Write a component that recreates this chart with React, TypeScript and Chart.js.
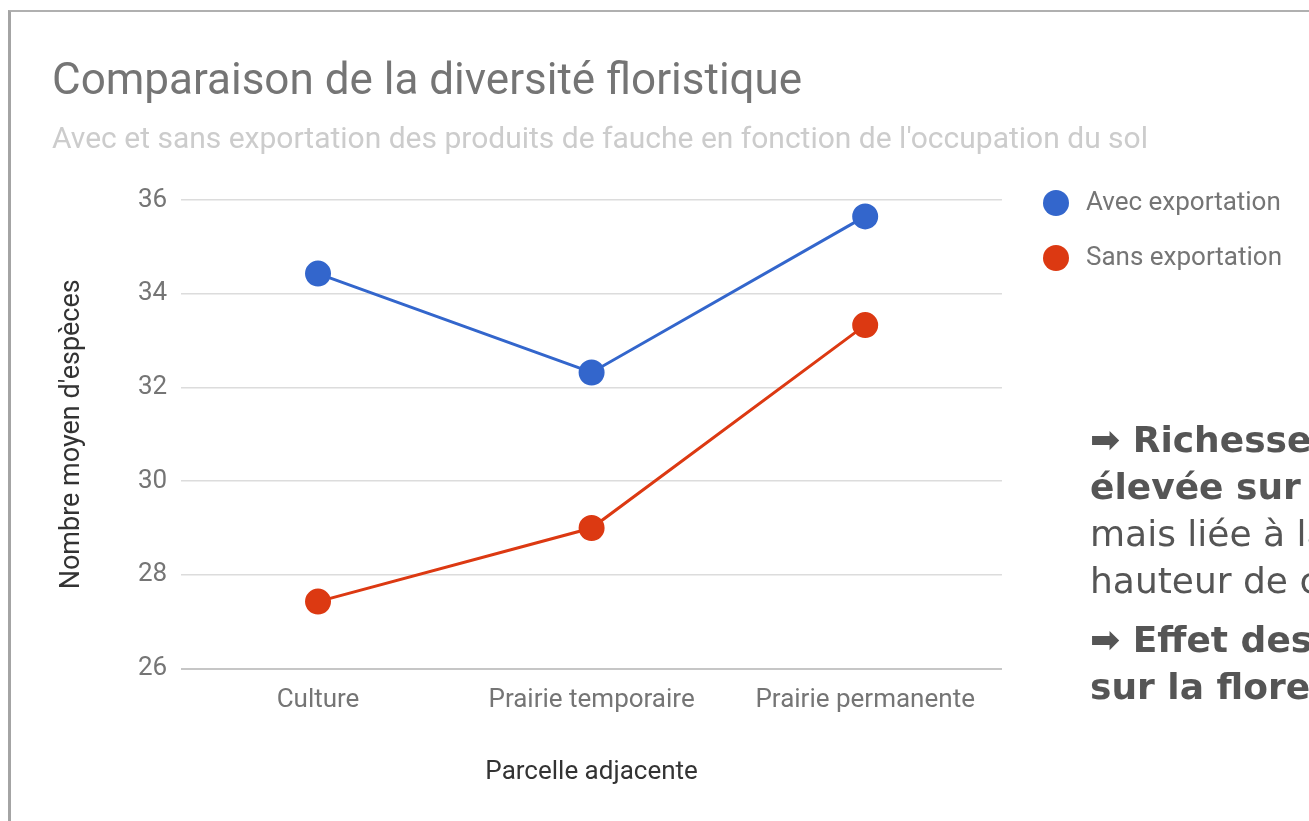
import React, { useEffect, useRef } from 'react';
import { Chart, registerables } from 'chart.js';

Chart.register(...registerables);

// ---- data ----
const categories = ['Culture', 'Prairie temporaire', 'Prairie permanente'];
const seriesLabels = ['Avec exportation', 'Sans exportation'];
const avecExportation = [34.43, 32.32, 35.65];
const sansExportation = [27.43, 29.0, 33.33];
const yTicks = [26, 28, 30, 32, 34, 36];
const seriesColors = ['#3366cc', '#dc3912'];

const titleText = 'Comparaison de la diversité floristique';
const subtitleText = "Avec et sans exportation des produits de fauche en fonction de l'occupation du sol";
const yAxisTitle = "Nombre moyen d'espèces";
const xAxisTitle = 'Parcelle adjacente';

const noteLines = [
  { text: '➡ Richesse floristique plus', bold: true, top: 416 },
  { text: 'élevée sur prairie permanente', bold: true, top: 463 },
  { text: 'mais liée à la', bold: false, top: 510 },
  { text: 'hauteur de coupe', bold: false, top: 557 },
  { text: '➡ Effet des exportations', bold: true, top: 616 },
  { text: 'sur la flore', bold: true, top: 663 },
];

function makeDot(color: string) {
  const c = document.createElement('canvas');
  c.width = 40;
  c.height = 28;
  const ctx = c.getContext('2d')!;
  ctx.fillStyle = color;
  ctx.beginPath();
  ctx.arc(24, 14, 13, 0, Math.PI * 2);
  ctx.fill();
  return c;
}

export default function App() {
  const canvasRef = useRef<HTMLCanvasElement | null>(null);

  useEffect(() => {
    const canvas = canvasRef.current;
    if (!canvas) return;
    const dots = seriesColors.map(makeDot);
    const font = 'Roboto';
    const chart = new Chart(canvas, {
      type: 'line',
      data: {
        labels: categories,
        datasets: [
          {
            label: seriesLabels[0],
            data: avecExportation,
            borderColor: seriesColors[0],
            backgroundColor: seriesColors[0],
            pointBackgroundColor: seriesColors[0],
            pointBorderColor: seriesColors[0],
            borderWidth: 3,
            pointRadius: 12,
            pointBorderWidth: 2,
            tension: 0,
          },
          {
            label: seriesLabels[1],
            data: sansExportation,
            borderColor: seriesColors[1],
            backgroundColor: seriesColors[1],
            pointBackgroundColor: seriesColors[1],
            pointBorderColor: seriesColors[1],
            borderWidth: 3,
            pointRadius: 12,
            pointBorderWidth: 2,
            tension: 0,
          },
        ],
      },
      options: {
        responsive: false,
        animation: false,
        layout: { padding: { left: 52, top: 20, right: 17, bottom: 27 } },
        plugins: {
          tooltip: { enabled: false },
          title: {
            display: true,
            text: titleText,
            align: 'start',
            color: '#757575',
            font: { family: font, size: 44, weight: 'normal' },
            padding: { top: 36.2, bottom: 6 },
          },
          subtitle: {
            display: true,
            text: subtitleText,
            align: 'start',
            color: '#cccccc',
            font: { family: font, size: 30, weight: 'normal' },
            padding: { top: 7.5, bottom: 41.5 },
          },
          legend: {
            position: 'right',
            align: 'start',
            fullSize: true,
            title: { display: true, text: '', padding: { top: 0, bottom: 126.6 }, font: { size: 12 } },
            labels: {
              usePointStyle: true,
              pointStyleWidth: 42,
              boxHeight: 26,
              padding: 29,
              color: '#757575',
              font: { family: font, size: 26 },
              generateLabels: (ch: any) => {
                const items = Chart.defaults.plugins.legend.labels.generateLabels(ch);
                return items.map((it: any, i: number) => ({ ...it, pointStyle: dots[i] }));
              },
            },
          },
        },
        scales: {
          x: {
            type: 'category',
            offset: true,
            grid: { display: false, drawTicks: false },
            border: { display: false },
            ticks: {
              color: '#757575',
              font: { family: font, size: 26 },
              padding: 16,
              maxRotation: 0,
              autoSkip: false,
            },
            title: {
              display: true,
              text: xAxisTitle,
              color: '#333333',
              font: { family: font, size: 26 },
              padding: { top: 25, bottom: 6 },
            },
          },
          y: {
            min: yTicks[0],
            max: yTicks[yTicks.length - 1],
            afterBuildTicks: (scale: any) => {
              scale.ticks = yTicks.map((v) => ({ value: v }));
            },
            grid: {
              drawTicks: false,
              color: (ctx: any) => (ctx.tick && ctx.tick.value === yTicks[0] ? '#c6c6c6' : '#dcdcdc'),
              lineWidth: (ctx: any) => (ctx.tick && ctx.tick.value === yTicks[0] ? 2 : 1.5),
            },
            border: { display: false },
            ticks: {
              color: '#757575',
              font: { family: font, size: 26 },
              padding: 14,
            },
            title: {
              display: true,
              text: yAxisTitle,
              color: '#333333',
              font: { family: font, size: 27 },
              padding: { top: 4, bottom: 35.6 },
            },
          },
        },
      },
    } as any);
    return () => chart.destroy();
  }, []);

  return (
    <div
      style={{
        position: 'fixed',
        left: 0,
        top: 0,
        width: 1309,
        height: 821,
        overflow: 'hidden',
        background: '#ffffff',
      }}
    >
      <div
        style={{
          position: 'absolute',
          left: 8,
          top: 10,
          width: 1400,
          height: 900,
          borderLeft: '3px solid #a4a4a4',
          borderTop: '2px solid #b0b0b0',
        }}
      />
      <canvas
        ref={canvasRef}
        width={1309}
        height={821}
        style={{ position: 'absolute', left: 0, top: 0, width: 1309, height: 821 }}
      />
      {noteLines.map((l, i) => (
        <div
          key={i}
          style={{
            position: 'absolute',
            left: 1090,
            top: l.top,
            height: 47,
            lineHeight: '47px',
            fontSize: 36,
            fontFamily: '"DejaVu Sans", sans-serif',
            fontWeight: l.bold ? 'bold' : 'normal',
            color: '#555555',
            whiteSpace: 'nowrap',
          }}
        >
          {l.text}
        </div>
      ))}
    </div>
  );
}
